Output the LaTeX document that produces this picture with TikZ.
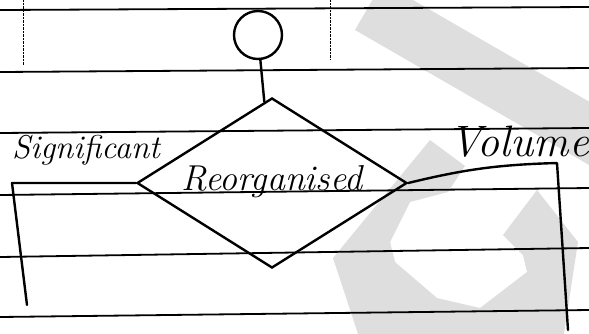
\documentclass[tikz,border=0pt]{standalone}
\usepackage{tikz}
\usetikzlibrary{shapes,positioning}

\begin{document}
\begin{tikzpicture}[x=1pt, y=-1pt,
    startnode/.style={circle, draw, line width=2.4pt, minimum size=48pt, inner sep=0pt},
    decision/.style={diamond, draw, line width=2.4pt, minimum width=270pt, minimum height=170pt, inner sep=0pt, font=\fontsize{36}{38}\selectfont\itshape},
    tag/.style={font=\fontsize{33}{35}\selectfont\itshape, inner sep=0pt},
    line/.style={draw, line width=2.4pt, line cap=round, line join=round},
    rule/.style={line width=1.8pt},
    wmark/.style={fill=black!13}]

    \useasboundingbox (0,0) rectangle (589,333);

    % Watermark
    \begin{scope}
    \clip (0,0) rectangle (589,333);
    \fill[wmark] (355,30) -- (382.5,-17.6) -- (727.5,181.5) -- (700,229) -- cycle;
    \fill[wmark] (430,140) -- (465,166) -- (448,192) -- (410,202) -- (390,242) -- (395,262) -- (437,298) -- (480,308) -- (527,272) -- (523,255) -- (503,235) -- (537,190) -- (578,242) -- (563,340) -- (360,340) -- (333,258) -- cycle;
    \end{scope}

    % Ruled paper
    \foreach \ya/\yb in {10/7, 72/68, 133/128, 195/188, 257/248, 317/310}
        \draw[rule] (0,\ya) -- (589,\yb);
    \draw[densely dotted, thin] (23,0) -- (23,65);
    \draw[densely dotted, thin] (330,0) -- (330,60);

    % Top Level
    \node [startnode] (start) at (258,35) {};

    % Decision
    \node [decision] (decide) at (272,183) {\makebox[0pt]{\raisebox{10pt}{Reorganised}}};

    % Branch corners
    \coordinate (sigcorner) at (12,183);
    \coordinate (sigend) at (27,305);
    \coordinate (volcorner) at (557,163);
    \coordinate (volend) at (568,330);

    % Labels
    \node [tag, above right=18pt and 0pt of sigcorner] (siglabel) {Significant};
    \node [tag, font=\fontsize{44}{46}\selectfont\itshape, above left=5pt and -32pt of volcorner] (vollabel) {Volume};

    % Paths
    \path [line] (start) -- (decide);
    \path [line] (decide.west) -- (sigcorner) -- (sigend);
    \path [line] (decide.east) to[bend left=6] (volcorner) -- (volend);

\end{tikzpicture}
\end{document}
